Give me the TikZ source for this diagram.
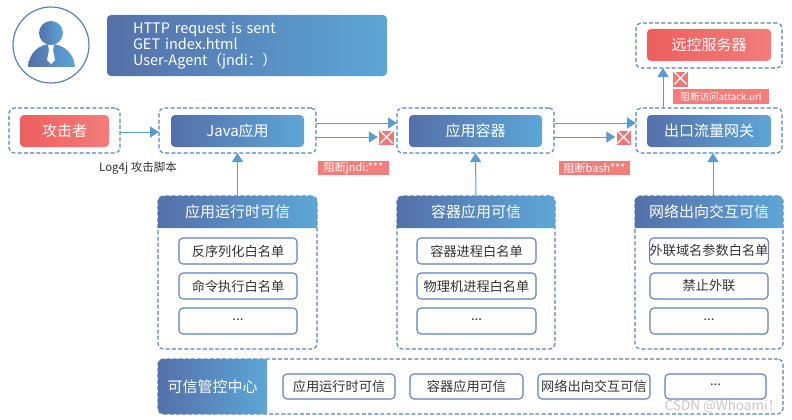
\documentclass[tikz,border=0pt]{standalone}
\usepackage{fontspec}
\setmainfont{Noto Sans CJK SC}
\usepackage{xcolor}
\usetikzlibrary{positioning, calc, arrows.meta}
\definecolor{bluedark}{HTML}{5570A9}
\definecolor{bluelight}{HTML}{5CA6D6}
\definecolor{reddark}{HTML}{EE5F5E}
\definecolor{redlight}{HTML}{F27D7B}
\definecolor{flowblue}{HTML}{5A9BD0}
\definecolor{framedash}{HTML}{5582BC}
\definecolor{itemline}{HTML}{5F7FB9}
\newcommand{\stopmark}{\makebox[0pt]{\smash{\raisebox{-7pt}{×}}}}
\tikzset{
    every node/.style = {inner sep = 0pt, outer sep = 0pt},
    frame/.style = {draw = framedash, dash pattern = on 4pt off 2.2pt, line width = 1.1pt, rounded corners = 5pt, fill = white},
    bluebox/.style = {left color = bluedark, right color = bluelight, rounded corners = 4pt, text = white, font = \fontsize{15}{18}\selectfont},
    redbox/.style = {left color = reddark, right color = redlight, rounded corners = 4pt, text = white, font = \fontsize{15}{18}\selectfont},
    itembox/.style = {draw = itemline, line width = 1.1pt, rounded corners = 4pt, fill = white, text = black!80, font = \fontsize{13.2}{16}\selectfont},
    tagbox/.style = {fill = redlight, text = white, font = \fontsize{11}{12}\selectfont, minimum height = 14.5pt},
    stopbox/.style = {fill = reddark!85!white, text = white, minimum width = 14.5pt, minimum height = 14.5pt, font = \fontsize{21}{14}\selectfont},
    flow/.style = {draw = flowblue, line width = 1pt, -{Triangle[length = 9pt, width = 11pt]}},
}

\begin{document}
\begin{tikzpicture}[x = 1pt, y = -1pt]
    \useasboundingbox (0,0) rectangle (792,420);

    % attacker figure
    \node (avatar) [draw = framedash, line width = 1.2pt, circle, minimum size = 76pt] at (51,45) {};
    \shade [left color = bluedark, right color = bluelight] (51,33) circle (12);
    \shade [left color = bluedark, right color = bluelight] (28,67) .. controls (29,52) and (40,44) .. (51,44)
        .. controls (62,44) and (74,52) .. (75,67) -- cycle;
    \fill [white] (48,45) -- (54,45) -- (53,50) -- (55,60) -- (51,64) -- (47,60) -- (49,50) -- cycle;

    \node (request) [bluebox, minimum width = 280pt, minimum height = 61pt, text width = 228pt, align = left,
        font = \fontsize{14.5}{16}\selectfont] at (247,45.5) {\raisebox{-1pt}{HTTP request is sent}\\\raisebox{-1pt}{GET index.html}\\\raisebox{-1pt}{User-Agent（jndi：）}};

    % top row
    \node (attackerframe) [frame, minimum width = 111pt, minimum height = 45pt] at (64.5,130.5) {};
    \node (attacker) [redbox, minimum width = 89pt, minimum height = 32pt] at (64.5,131) {攻击者};
    \node (javaframe) [frame, minimum width = 157pt, minimum height = 45pt] at (237.5,130.5) {};
    \node (java) [bluebox, minimum width = 133pt, minimum height = 32pt] at (237.5,131) {Java应用};
    \node (containerframe) [frame, minimum width = 157pt, minimum height = 45pt] at (475.5,130.5) {};
    \node (container) [bluebox, minimum width = 133pt, minimum height = 32pt] at (475.5,131) {应用容器};
    \node (gatewayframe) [frame, minimum width = 146pt, minimum height = 45pt] at (709,130.5) {};
    \node (gateway) [bluebox, minimum width = 124pt, minimum height = 32pt] at (709,131) {出口流量网关};
    \node (remoteframe) [frame, minimum width = 146pt, minimum height = 45pt] at (709,45.5) {};
    \node (remote) [redbox, minimum width = 124pt, minimum height = 32pt] at (709,45) {远控服务器};

    % blocks
    \node (stopjndi) [stopbox] at (386.5,138) {\stopmark};
    \node (stopbash) [stopbox] at (624,138) {\stopmark};
    \node (stopurl) [stopbox] at (680.5,79.5) {\stopmark};
    \node (tagjndi) [tagbox, minimum width = 71pt] at (353.5,168) {阻断jndi:***};
    \node (tagbash) [tagbox, minimum width = 71pt] at (594.5,168) {阻断bash***};
    \node (tagurl) [tagbox, minimum width = 96pt, font = \fontsize{9.6}{12}\selectfont] at (721,96.5) {阻断访问attack.url};
    \node (script) [text = black!80, font = \fontsize{11.5}{13}\selectfont] at (138,168) {Log4j 攻击脚本};

    \draw [flow] (attackerframe.east) ++ (0,1.5) -- ($(javaframe.west) + (0,1.5)$);
    \draw [flow] ($(javaframe.east) + (0,-7.5)$) -- ($(containerframe.west) + (0,-7.5)$);
    \draw [flow] ($(javaframe.east) + (0,6.5)$) -- ($(stopjndi.west) + (-1.5,-1)$);
    \draw [flow] ($(containerframe.east) + (0,-7.5)$) -- ($(gatewayframe.west) + (0,-7.5)$);
    \draw [flow] ($(containerframe.east) + (0,6.5)$) -- ($(stopbash.west) + (-1.5,-1)$);
    \draw [flow] ($(gatewayframe.north) + (-46,0)$) -- ($(remoteframe.south) + (-46,0)$);

    % panel 1
    \node (runframe) [frame, minimum width = 159pt, minimum height = 153pt] at (237.5,272.5) {};
    \shade [left color = bluedark, right color = bluelight] (158,228) [rounded corners = 5pt] -- (158,196) -- (317,196) [sharp corners] -- (317,228) -- cycle;
    \node (runtitle) [text = white, font = \fontsize{15}{18}\selectfont] at (237.5,212) {应用运行时可信};
    \node (runa) [itembox, minimum width = 118pt, minimum height = 26pt] at (238,251) {反序列化白名单};
    \node (runb) [itembox, minimum width = 118pt, minimum height = 26pt] at (238,286) {命令执行白名单};
    \node (runc) [itembox, minimum width = 118pt, minimum height = 26pt] at (238,321) {\raisebox{3pt}{...}};

    % panel 2
    \node (appframe) [frame, minimum width = 158pt, minimum height = 153pt] at (476,272.5) {};
    \shade [left color = bluedark, right color = bluelight] (397,228) [rounded corners = 5pt] -- (397,196) -- (555,196) [sharp corners] -- (555,228) -- cycle;
    \node (apptitle) [text = white, font = \fontsize{15}{18}\selectfont] at (476,212) {容器应用可信};
    \node (appa) [itembox, minimum width = 119pt, minimum height = 26pt] at (476.5,251) {容器进程白名单};
    \node (appb) [itembox, minimum width = 119pt, minimum height = 26pt] at (476.5,286) {物理机进程白名单};
    \node (appc) [itembox, minimum width = 119pt, minimum height = 26pt] at (476.5,321) {\raisebox{3pt}{...}};

    % panel 3
    \node (netframe) [frame, minimum width = 148pt, minimum height = 153pt] at (709,272.5) {};
    \shade [left color = bluedark, right color = bluelight] (635,228) [rounded corners = 5pt] -- (635,196) -- (783,196) [sharp corners] -- (783,228) -- cycle;
    \node (nettitle) [text = white, font = \fontsize{15}{18}\selectfont] at (709,212) {网络出向交互可信};
    \node (neta) [itembox, minimum width = 118pt, minimum height = 26pt] at (709,251) {外联域名参数白名单};
    \node (netb) [itembox, minimum width = 118pt, minimum height = 26pt] at (709,286) {禁止外联};
    \node (netc) [itembox, minimum width = 118pt, minimum height = 26pt] at (709,321) {\raisebox{3pt}{...}};

    \draw [flow] (runframe.north) -- (javaframe.south);
    \draw [flow] (appframe.north) -- (containerframe.south);
    \draw [flow] ($(netframe.north) + (4,0)$) -- ($(gatewayframe.south) + (4,0)$);

    % management row
    \node (centerframe) [frame, minimum width = 625pt, minimum height = 55pt] at (470.5,386.5) {};
    \shade [left color = bluedark, right color = bluelight] (267,359) [rounded corners = 5pt] -- (158,359) -- (158,414) [sharp corners] -- (267,414) -- cycle;
    \node (centertitle) [text = white, font = \fontsize{15}{18}\selectfont] at (212.5,387) {可信管控中心};
    \node (centera) [itembox, minimum width = 112pt, minimum height = 25pt] at (339,386.5) {应用运行时可信};
    \node (centerb) [itembox, minimum width = 113pt, minimum height = 25pt] at (466.5,386.5) {容器应用可信};
    \node (centerc) [itembox, minimum width = 112pt, minimum height = 25pt] at (594,386.5) {网络出向交互可信};
    \node (centerd) [itembox, minimum width = 101pt, minimum height = 25pt] at (715.5,386.5) {\raisebox{3pt}{...}};

    \node (mark) [text = black!22, font = \fontsize{13.5}{14}\selectfont] at (723,406) {CSDN @Whoami！};
\end{tikzpicture}
\end{document}
